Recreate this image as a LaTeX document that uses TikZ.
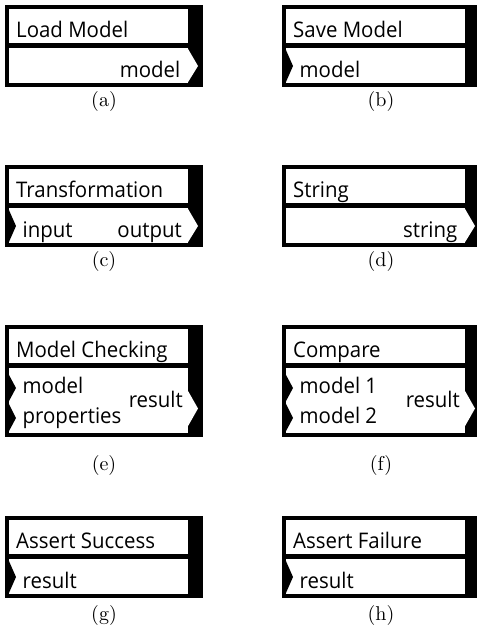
\documentclass[tikz,border=0pt]{standalone}
\usepackage{fontspec}
\newfontfamily\blkfont[FakeStretch=0.95]{Open Sans}
\newfontfamily\capfont{lmroman10-regular.otf}
\newcommand{\blk}[7]{% #1 name, #2 x0, #3 y0, #4 inner right, #5 outer right, #6 body height, #7 title
  \fill[black] (#2,#3) rectangle (#5,#3+47+#6);
  \fill[white] (#2+4,#3+4) rectangle (#4,#3+38);
  \fill[white] (#2+4,#3+43) rectangle (#4,#3+43+#6);
  \node[lbl, anchor=base west] (#1) at (#2+11,#3+32) {#7};
}
% output port: #1 name, #2 inner right, #3 top, #4 centre, #5 bottom, #6 baseline, #7 label, #8 gap
\newcommand{\blkout}[8]{%
  \fill[white] (#2-0.5,#3) -- (#2+10,#4) -- (#2-0.5,#5) -- cycle;
  \node[lbl, anchor=base east] (#1) at (#2-#8,#6) {#7};
}
% input port: #1 name, #2 x0, #3 top, #4 centre, #5 bottom, #6 baseline, #7 label
\newcommand{\blkin}[7]{%
  \fill[black] (#2+3.5,#3) -- (#2+11,#4) -- (#2+3.5,#5) -- cycle;
  \node[lbl, anchor=base west] (#1) at (#2+17.5,#6) {#7};
}
\begin{document}
\begin{tikzpicture}[x=1pt,y=-1pt,
  lbl/.style={font=\blkfont\fontsize{21.5}{24}\selectfont, inner sep=0pt, text=black},
  capt/.style={font=\capfont\fontsize{20}{24}\selectfont, inner sep=0pt}]
\useasboundingbox[fill=white] (0,0) rectangle (477,637);
% (a)
\blk{atitle}{5}{5}{188}{203}{35}{Load Model}
\blkout{aout}{188}{48}{66}{83}{77}{model}{7.5}
\node[capt] (acap) at (104,101) {(a)};
% (b)
\blk{btitle}{282}{5}{465}{477}{35}{Save Model}
\blkin{bin}{282}{49}{66}{83}{77}{model}
\node[capt] (bcap) at (381,101) {(b)};
% (c)
\blk{ctitle}{5}{165}{188}{203}{35}{Transformation}
\blkin{cin}{5}{209}{226}{243}{237}{input}
\blkout{cout}{188}{208}{226}{243}{237}{output}{6}
\node[capt] (ccap) at (104,261) {(c)};
% (d)
\blk{dtitle}{282}{165}{465}{477}{35}{String}
\blkout{dout}{465}{208}{226}{243}{237}{string}{7.5}
\node[capt] (dcap) at (381,261) {(d)};
% (e)
\blk{etitle}{5}{325}{188}{203}{65}{Model Checking}
\blkin{ein1}{5}{374}{388}{402}{393}{model}
\blkin{ein2}{5}{403}{418}{432}{423}{properties}
\blkout{eout}{188}{390}{408.5}{427}{407}{result}{5}
\node[capt] (ecap) at (104,465) {(e)};
% (f)
\blk{ftitle}{282}{325}{465}{477}{65}{Compare}
\blkin{fin1}{282}{374}{388}{402}{393}{model 1}
\blkin{fin2}{282}{403}{418}{432}{423}{model 2}
\blkout{fout}{465}{390}{408.5}{427}{407}{result}{5}
\node[capt] (fcap) at (381,465) {(f)};
% (g)
\blk{gtitle}{5}{516}{188}{203}{35}{Assert Success}
\blkin{gin}{5}{560}{577}{594}{588}{result}
\node[capt] (gcap) at (104,615) {(g)};
% (h)
\blk{htitle}{282}{516}{465}{477}{35}{Assert Failure}
\blkin{hin}{282}{560}{577}{594}{588}{result}
\node[capt] (hcap) at (381,615) {(h)};
\end{tikzpicture}
\end{document}
